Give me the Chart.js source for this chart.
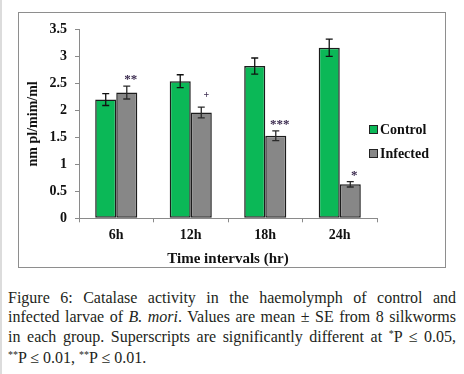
<!DOCTYPE html>
<html>
<head>
<meta charset="utf-8">
<script src="https://cdn.jsdelivr.net/npm/chart.js@4.4.1/dist/chart.umd.min.js"></script>
<style>
  html, body { margin:0; padding:0; background:#fff; }
  body { width:464px; height:374px; position:relative; overflow:hidden; }
  #edge { position:absolute; left:0; top:0; width:2px; height:374px; background:#dcdcdc; }
  #frame { position:absolute; left:18px; top:12px; width:426px; height:254px; border:1px solid #8e8e8e; }
  #c { position:absolute; left:19px; top:13px; }
  #caption { position:absolute; left:8px; top:287.5px; width:448px; font-family:'Liberation Serif','Times New Roman',serif; font-size:16px; line-height:19.5px; color:#231f20; }
  #caption div { white-space:nowrap; text-align:justify; text-align-last:justify; }
  #caption div.last { text-align-last:left; }
  sup { font-size:10px; vertical-align:0; position:relative; top:-5px; }
</style>
</head>
<body>
<div id="edge"></div>
<div id="frame"></div>
<canvas id="c" width="426" height="254"></canvas>
<div id="caption">
  <div>Figure 6: Catalase activity in the haemolymph of control and</div>
  <div>infected larvae of <i>B. mori</i>. Values are mean ± SE from 8 silkworms</div>
  <div>in each group. Superscripts are significantly different at <sup>*</sup>P ≤ 0.05,</div>
  <div class="last"><sup>**</sup>P ≤ 0.01, <sup>**</sup>P ≤ 0.01.</div>
</div>
<script>
const categories = ['6h', '12h', '18h', '24h'];
const controlValues = [2.20, 2.54, 2.82, 3.16];
const infectedValues = [2.33, 1.96, 1.53, 0.63];
const controlErrors = [0.11, 0.12, 0.15, 0.16];
const infectedErrors = [0.12, 0.10, 0.09, 0.05];
const infectedMarks = ['**', '+', '***', '*'];
const seriesNames = ['Control', 'Infected'];
const yTickLabels = ['0', '0.5', '1', '1.5', '2', '2.5', '3', '3.5'];

const SERIF = "'Liberation Serif', 'Times New Roman', serif";
const GREEN = '#0bb857';
const GREY = '#878787';

const errorBarPlugin = {
  id: 'errorBars',
  afterDatasetsDraw(chart) {
    const ctx = chart.ctx;
    const y = chart.scales.y;
    chart.data.datasets.forEach((ds, di) => {
      const meta = chart.getDatasetMeta(di);
      meta.data.forEach((bar, i) => {
        const v = ds.data[i], e = ds.errors[i];
        const yt = y.getPixelForValue(v + e);
        const yb = y.getPixelForValue(v - e);
        ctx.save();
        ctx.strokeStyle = ds.errorColor;
        ctx.lineWidth = 1.3;
        ctx.beginPath();
        ctx.moveTo(bar.x, yt); ctx.lineTo(bar.x, yb);
        ctx.moveTo(bar.x - 3.5, yt); ctx.lineTo(bar.x + 3.5, yt);
        ctx.moveTo(bar.x - 3.5, yb); ctx.lineTo(bar.x + 3.5, yb);
        ctx.stroke();
        if (ds.marks) {
          ctx.fillStyle = '#3b2b4f';
          ctx.font = 'bold 13px ' + SERIF;
          ctx.textAlign = 'center';
          ctx.textBaseline = 'alphabetic';
          const m = ds.marks[i];
          if (m === '+') {
            ctx.font = 'bold 10px ' + SERIF;
            ctx.fillText(m, bar.x + 5, yt - 9);
          } else {
            ctx.fillText(m, bar.x + 4, yt - 3);
          }
        }
        ctx.restore();
      });
    });
  }
};

const legendPlugin = {
  id: 'sideLegend',
  afterDraw(chart) {
    const ctx = chart.ctx;
    chart.data.datasets.forEach((ds, di) => {
      const boxTop = 112 + di * 24;
      ctx.save();
      ctx.fillStyle = ds.backgroundColor;
      ctx.fillRect(350, boxTop, 8, 8);
      ctx.strokeStyle = '#222';
      ctx.lineWidth = 1;
      ctx.strokeRect(350.5, boxTop + 0.5, 8, 8);
      ctx.fillStyle = '#111';
      ctx.font = 'bold 14px ' + SERIF;
      ctx.textAlign = 'left';
      ctx.textBaseline = 'alphabetic';
      ctx.fillText(ds.label, 361, boxTop + 8.5);
      ctx.restore();
    });
  }
};

new Chart(document.getElementById('c'), {
  type: 'bar',
  data: {
    labels: categories,
    datasets: [
      { label: seriesNames[0], data: controlValues, errors: controlErrors, errorColor: '#111',
        backgroundColor: GREEN, borderColor: '#1c1c1c', borderWidth: 1.5, borderSkipped: false },
      { label: seriesNames[1], data: infectedValues, errors: infectedErrors, errorColor: '#2a2a2a', marks: infectedMarks,
        backgroundColor: GREY, borderColor: '#1c1c1c', borderWidth: 1.5, borderSkipped: false }
    ]
  },
  options: {
    responsive: false,
    animation: false,
    events: [],
    layout: { padding: { left: 0, right: 68, top: 12.7, bottom: 0 } },
    datasets: { bar: { barPercentage: 1, categoryPercentage: 0.565 } },
    plugins: { legend: { display: false }, tooltip: { enabled: false } },
    scales: {
      x: {
        grid: { drawOnChartArea: false, tickLength: 4, color: '#8a8a8a', offset: true },
        border: { color: '#8a8a8a' },
        ticks: { color: '#111', font: { family: SERIF, weight: 'bold', size: 14 }, padding: 5 },
        title: { display: true, text: 'Time intervals (hr)', color: '#111',
                 font: { family: SERIF, weight: 'bold', size: 15, lineHeight: 1 }, padding: { top: 0, bottom: 0 } },
        afterFit(s) { s.height = 48.7; }
      },
      y: {
        min: 0, max: 3.5,
        grid: { drawOnChartArea: false, tickLength: 4, color: '#8a8a8a' },
        border: { color: '#8a8a8a' },
        ticks: { stepSize: 0.5, color: '#111', font: { family: SERIF, weight: 'bold', size: 14 }, padding: 8,
                 callback: (v, i) => yTickLabels[i] },
        title: { display: true, text: 'nm pl/mim/ml', color: '#111',
                 font: { family: SERIF, weight: 'bold', size: 14, lineHeight: 1 }, padding: { top: 7, bottom: 0 } },
        afterFit(s) { s.width = 60; }
      }
    }
  },
  plugins: [errorBarPlugin, legendPlugin]
});
</script>
</body>
</html>
